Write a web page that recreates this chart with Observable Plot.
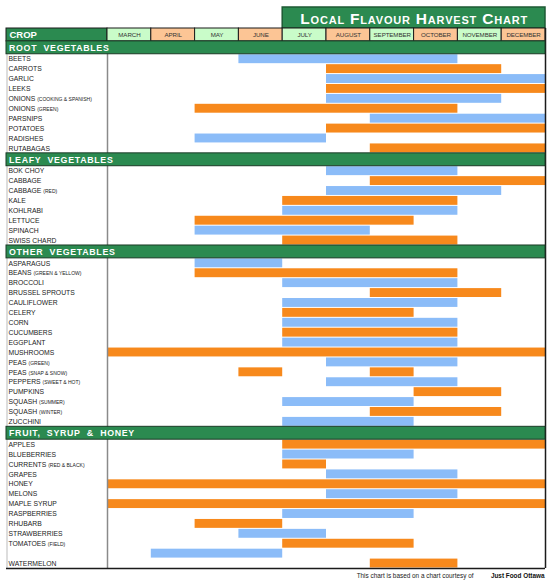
<!DOCTYPE html>
<html>
<head>
<meta charset="utf-8">
<script src="https://cdn.jsdelivr.net/npm/d3@7"></script>
<script src="https://cdn.jsdelivr.net/npm/@observablehq/plot@0.6"></script>
<style>
  html, body { margin: 0; padding: 0; background: #fff; }
  svg { font-family: "Liberation Sans", Arial, Helvetica, sans-serif; }
</style>
</head>
<body>
<div id="chart"></div>
<script>
const title = "Local Flavour Harvest Chart";
const cropHeader = "CROP";
const months = ["MARCH","APRIL","MAY","JUNE","JULY","AUGUST","SEPTEMBER","OCTOBER","NOVEMBER","DECEMBER"];
const sectionNames = ["ROOT  VEGETABLES","LEAFY  VEGETABLES","OTHER  VEGETABLES","FRUIT,  SYRUP  &  HONEY"];

const rootCrops = ["BEETS","CARROTS","GARLIC","LEEKS","ONIONS (COOKING & SPANISH)","ONIONS (GREEN)","PARSNIPS","POTATOES","RADISHES","RUTABAGAS"];
const rootSeasons = [
  [["JUNE","OCTOBER"]], [["AUGUST","NOVEMBER"]], [["AUGUST","DECEMBER"]], [["AUGUST","DECEMBER"]],
  [["AUGUST","NOVEMBER"]], [["MAY","OCTOBER"]], [["SEPTEMBER","DECEMBER"]], [["AUGUST","DECEMBER"]],
  [["MAY","JULY"]], [["SEPTEMBER","DECEMBER"]]
];

const leafyCrops = ["BOK CHOY","CABBAGE","CABBAGE (RED)","KALE","KOHLRABI","LETTUCE","SPINACH","SWISS CHARD"];
const leafySeasons = [
  [["AUGUST","OCTOBER"]], [["SEPTEMBER","DECEMBER"]], [["AUGUST","NOVEMBER"]], [["JULY","OCTOBER"]],
  [["JULY","OCTOBER"]], [["MAY","SEPTEMBER"]], [["MAY","AUGUST"]], [["JULY","OCTOBER"]]
];

const otherCrops = ["ASPARAGUS","BEANS (GREEN & YELLOW)","BROCCOLI","BRUSSEL SPROUTS","CAULIFLOWER","CELERY","CORN","CUCUMBERS","EGGPLANT","MUSHROOMS","PEAS (GREEN)","PEAS (SNAP & SNOW)","PEPPERS (SWEET & HOT)","PUMPKINS","SQUASH (SUMMER)","SQUASH (WINTER)","ZUCCHINI"];
const otherSeasons = [
  [["MAY","JUNE"]], [["MAY","OCTOBER"]], [["JULY","OCTOBER"]], [["SEPTEMBER","NOVEMBER"]],
  [["JULY","OCTOBER"]], [["JULY","SEPTEMBER"]], [["JULY","OCTOBER"]], [["JULY","OCTOBER"]],
  [["JULY","OCTOBER"]], [["MARCH","DECEMBER"]], [["AUGUST","OCTOBER"]],
  [["JUNE","JUNE"],["SEPTEMBER","SEPTEMBER"]], [["AUGUST","OCTOBER"]], [["OCTOBER","NOVEMBER"]],
  [["JULY","SEPTEMBER"]], [["SEPTEMBER","NOVEMBER"]], [["JULY","SEPTEMBER"]]
];

const fruitCrops = ["APPLES","BLUEBERRIES","CURRENTS (RED & BLACK)","GRAPES","HONEY","MELONS","MAPLE SYRUP","RASPBERRIES","RHUBARB","STRAWBERRIES","TOMATOES (FIELD)","","WATERMELON"];
const fruitSeasons = [
  [["JULY","DECEMBER"]], [["JULY","SEPTEMBER"]], [["JULY","JULY"]], [["AUGUST","OCTOBER"]],
  [["MARCH","DECEMBER"]], [["AUGUST","OCTOBER"]], [["MARCH","DECEMBER"]], [["JULY","SEPTEMBER"]],
  [["MAY","JUNE"]], [["JUNE","JULY"]], [["JULY","SEPTEMBER"]], [["APRIL","JUNE"]],
  [["SEPTEMBER","OCTOBER"]]
];

const captionText = "This chart is based on a chart courtesy of";
const captionSource = "Just Food Ottawa";

// ---- styling / layout ----
const GREEN = "#2b8a50", DARKGREEN = "#1d5a34";
const ORANGE = "#f7891c", BLUE = "#8bbcf8";
const CELL_GREEN = "#c9fcc9", CELL_ORANGE = "#fcc595";
const HEAD_H = 1.3;          // header/section row height in row units
const LABEL_X = -2.306;      // start of the crop-name column in month units

const sectionCrops = [rootCrops, leafyCrops, otherCrops, fruitCrops];
const sectionSeasons = [rootSeasons, leafySeasons, otherSeasons, fruitSeasons];

const sections = [], rows = [], bars = [];
let yPos = HEAD_H, rowIndex = 0;
sectionNames.forEach((name, s) => {
  sections.push({name, y1: yPos, y2: yPos + HEAD_H});
  yPos += HEAD_H;
  sectionCrops[s].forEach((crop, i) => {
    const row = {crop, y1: yPos, y2: yPos + 1};
    rows.push(row);
    const color = rowIndex % 2 === 0 ? BLUE : ORANGE;
    sectionSeasons[s][i].forEach(([a, b]) => {
      bars.push({crop, x1: months.indexOf(a), x2: months.indexOf(b) + 1, y1: row.y1, y2: row.y2, color});
    });
    yPos += 1;
    rowIndex += 1;
  });
});
const yEnd = yPos;
const monthCells = months.map((m, i) => ({m, x1: i, x2: i + 1, fill: i % 2 === 0 ? CELL_GREEN : CELL_ORANGE}));

const chart = Plot.plot({
  width: 550,
  height: 582,
  margin: 0,
  x: {domain: [LABEL_X, months.length], range: [6, 545], axis: null},
  y: {domain: [0, yEnd], range: [28, 568], axis: null},
  color: {type: "identity"},
  marks: [
    // title box
    Plot.rect([title], {x1: 4, x2: months.length, y1: -2.12, y2: 0, fill: GREEN, stroke: DARKGREEN, strokeWidth: 1.5}),
    Plot.text([title], {x: 7, y: -1.0, text: d => d, fill: "white", fontSize: 15.5, fontWeight: "bold", fontVariant: "small-caps"}),
    // header row
    Plot.rect([cropHeader], {x1: LABEL_X, x2: 0, y1: 0, y2: HEAD_H, fill: GREEN, stroke: "#1b1b1b", strokeWidth: 1}),
    Plot.text([cropHeader], {x: LABEL_X, dx: 3, y: HEAD_H / 2, text: d => d, textAnchor: "start", fill: "white", fontSize: 9.5, fontWeight: "bold"}),
    Plot.rect(monthCells, {x1: "x1", x2: "x2", y1: 0, y2: HEAD_H, fill: "fill", stroke: "#1b1b1b", strokeWidth: 1}),
    Plot.text(monthCells, {x: d => (d.x1 + d.x2) / 2, y: HEAD_H / 2, text: "m", fill: "#333", fontSize: 6.2}),
    // bars
    Plot.rect(bars, {x1: "x1", x2: "x2", y1: "y1", y2: "y2", fill: "color", insetTop: 0.5, insetBottom: 0.5}),
    // crop labels
    Plot.text(rows, {x: LABEL_X, dx: 2, y: d => (d.y1 + d.y2) / 2, text: "crop", textAnchor: "start", fill: "#222", fontSize: 6.8}),
    // column separator & borders
    Plot.ruleX([0], {y1: HEAD_H, y2: yEnd, stroke: "#8a8a8a", strokeWidth: 1.5}),
    Plot.ruleX([LABEL_X], {y1: HEAD_H, y2: yEnd, stroke: "#bbb", strokeWidth: 1, dx: 0.5}),
    Plot.ruleX([months.length], {y1: 0, y2: yEnd, stroke: "#1b1b1b", strokeWidth: 1.5}),
    Plot.ruleY([yEnd], {x1: LABEL_X, x2: months.length, stroke: "#1b1b1b", strokeWidth: 1.5}),
    // section bars
    Plot.rect(sections, {x1: LABEL_X, x2: months.length, y1: "y1", y2: "y2", fill: GREEN, stroke: "#1b3a26", strokeWidth: 1}),
    Plot.text(sections, {x: LABEL_X, dx: 2.5, y: d => (d.y1 + d.y2) / 2, text: "name", textAnchor: "start", fill: "white", fontSize: 8.8, fontWeight: "bold"}),
    // caption
    Plot.text([captionSource], {x: months.length, dx: -1, y: yEnd, dy: 7, text: d => d, textAnchor: "end", fill: "#111", fontSize: 6.4, fontWeight: "bold"}),
    Plot.text([captionText], {x: months.length, dx: -72, y: yEnd, dy: 7, text: d => d, textAnchor: "end", fill: "#222", fontSize: 6.4})
  ]
});

// Smaller parenthetical text in crop labels; letter spacing for section names
chart.querySelectorAll("text").forEach(t => {
  const s = t.textContent;
  const m = s.match(/^(.*?)\s*(\(.*\))$/);
  if (m) {
    t.textContent = "";
    const ns = "http://www.w3.org/2000/svg";
    const a = document.createElementNS(ns, "tspan");
    a.textContent = m[1] + " ";
    const b = document.createElementNS(ns, "tspan");
    b.textContent = m[2];
    b.setAttribute("font-size", "5");
    t.appendChild(a); t.appendChild(b);
  }
  if (sectionNames.includes(s)) { t.style.letterSpacing = "0.7px"; t.style.whiteSpace = "pre"; }
  if (s === title) { t.style.letterSpacing = "0.8px"; }
  if (months.includes(s)) { t.style.letterSpacing = "-0.1px"; }
});
document.getElementById("chart").appendChild(chart);
</script>
</body>
</html>
